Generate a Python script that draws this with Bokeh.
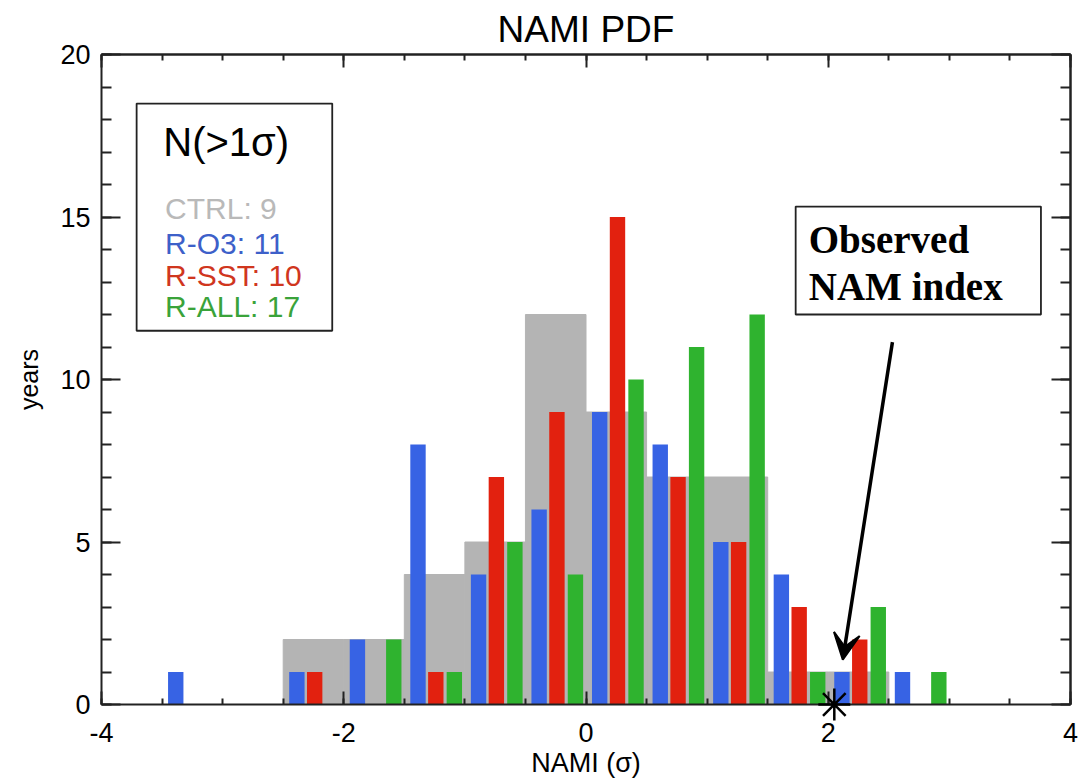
import numpy as np
from bokeh.plotting import figure
from bokeh.models import (ColumnDataSource, Range1d, LinearAxis, BoxAnnotation,
                          Label, Arrow, VeeHead, FixedTicker)
from bokeh.embed import file_html
from bokeh.resources import INLINE

# ---------------- data ----------------
bin_left = [-3.5, -3.0, -2.5, -2.0, -1.5, -1.0, -0.5, 0.0, 0.5, 1.0, 1.5, 2.0, 2.5]
bin_width = 0.5
ctrl = [0, 0, 2, 2, 4, 5, 12, 9, 7, 7, 1, 1, 0]
r_o3 = [1, 0, 1, 2, 8, 4, 6, 9, 8, 5, 4, 1, 1]
r_sst = [0, 0, 1, 0, 1, 7, 9, 15, 7, 5, 3, 2, 0]
r_all = [0, 0, 0, 2, 1, 5, 4, 10, 11, 12, 1, 3, 1]
series_names = ["CTRL", "R-O3", "R-SST", "R-ALL"]
n_above_1sigma = [9, 11, 10, 17]
observed_nami = [2.05]
observed_years = [0]
x_ticks = [-4, -2, 0, 2, 4]
x_minor = [-4 + 0.5 * i for i in range(17)]
y_ticks = [0, 5, 10, 15, 20]
y_minor = list(range(0, 21))

# ---------------- style ----------------
GRAY = "#b4b4b4"
BLUE = "#3763e4"
RED = "#e2210f"
GREEN = "#2fb32f"
TEXT_COLORS = ["#b9b9b9", "#3d60c9", "#d0361e", "#3aa33a"]
FONT = "Liberation Sans"
AX = "#222222"
bar_w = 0.127
offsets = {"blue": 0.113, "red": 0.26, "green": 0.413}

p = figure(width=1080, height=780, x_range=Range1d(-4, 4), y_range=Range1d(0, 20),
           output_backend="svg", toolbar_location=None, title="NAMI PDF")
p.min_border_left = 101
p.min_border_right = 10
p.min_border_top = 54
p.min_border_bottom = 76
p.outline_line_color = None
p.xgrid.visible = False
p.ygrid.visible = False
p.background_fill_color = "white"
p.border_fill_color = "white"

p.title.text_font = FONT
p.title.text_font_size = "37px"
p.title.text_font_style = "normal"
p.title.align = "center"
p.title.text_color = "black"
p.title.standoff = 10


def style_axis(ax, horizontal):
    ax.axis_line_width = 2
    ax.axis_line_color = AX
    ax.major_tick_line_color = AX
    ax.minor_tick_line_color = AX
    ax.major_tick_line_width = 2
    ax.minor_tick_line_width = 2
    ax.major_tick_out = 0
    ax.minor_tick_out = 0
    if horizontal:
        ax.major_tick_in = 13
        ax.minor_tick_in = 6
    else:
        ax.major_tick_in = 19
        ax.minor_tick_in = 10
    ax.major_label_text_font = FONT
    ax.major_label_text_font_size = "27px"
    ax.major_label_text_color = "black"
    ax.axis_label_text_font = FONT
    ax.axis_label_text_font_style = "normal"
    ax.axis_label_text_color = "black"


xa = p.xaxis[0]
xa.ticker = FixedTicker(ticks=x_ticks, minor_ticks=x_minor)
xa.axis_label = "NAMI (σ)"
style_axis(xa, True)
xa.major_label_overrides = {t: str(t) for t in x_ticks}
xa.major_label_standoff = 18
xa.axis_label_standoff = 3
xa.axis_label_text_font_size = "27px"

ya = p.yaxis[0]
ya.ticker = FixedTicker(ticks=y_ticks, minor_ticks=y_minor)
ya.axis_label = "years"
style_axis(ya, False)
ya.major_label_standoff = 11
ya.axis_label_standoff = 14
ya.axis_label_text_font_size = "25px"


def tick_only_axis(minor_positions, tick_len):
    """Axis without labels: only inward ticks (drawn as 'minor' ticks)."""
    ax = LinearAxis(ticker=FixedTicker(ticks=[], minor_ticks=minor_positions))
    ax.axis_line_width = 2
    ax.axis_line_color = AX
    ax.minor_tick_line_color = AX
    ax.minor_tick_line_width = 2
    ax.minor_tick_in = tick_len
    ax.minor_tick_out = 0
    ax.major_tick_out = 0
    ax.major_tick_in = 0
    ax.major_label_standoff = 0
    return ax


p.add_layout(tick_only_axis(x_minor, 6), "above")
p.add_layout(tick_only_axis(x_ticks, 13), "above")
p.add_layout(tick_only_axis(y_minor, 10), "right")
p.add_layout(tick_only_axis(y_ticks, 19), "right")

# ---------------- CTRL histogram (wide gray steps) ----------------
bl = np.array(bin_left)
c = np.array(ctrl)
m = c > 0
p.quad(left=bl[m], right=bl[m] + bin_width, bottom=0, top=c[m],
       fill_color=GRAY, line_color=GRAY, line_width=1)

# ---------------- coloured bars ----------------
for counts, color, key in [(r_o3, BLUE, "blue"), (r_sst, RED, "red"), (r_all, GREEN, "green")]:
    cnt = np.array(counts)
    mm = cnt > 0
    src = ColumnDataSource(dict(x=bl[mm] + offsets[key], top=cnt[mm]))
    p.vbar(x="x", top="top", bottom=0, width=bar_w, source=src,
           fill_color=color, line_color=None)

# ---------------- observed index ----------------
p.scatter(x=observed_nami, y=observed_years, marker="asterisk", size=32,
          line_color="black", line_width=2.5, level="overlay")

p.add_layout(Arrow(end=VeeHead(size=26, fill_color="black", line_color="black", line_width=2),
                   x_start=2.53, y_start=11.15, x_end=2.12, y_end=1.38,
                   line_width=3.5, line_color="black"))

p.add_layout(BoxAnnotation(left=1.731, right=3.756, top=15.32, bottom=12.0,
                           fill_color="white", fill_alpha=1.0,
                           line_color=AX, line_alpha=1.0, line_width=1.8))
for txt, yy in [("Observed", 14.3), ("NAM index", 12.85)]:
    p.add_layout(Label(x=1.839, y=yy, text=txt, text_font="Liberation Serif",
                       text_font_style="bold", text_font_size="39px",
                       text_color="black", text_baseline="alphabetic"))

# ---------------- N(>1 sigma) box ----------------
p.add_layout(BoxAnnotation(left=-3.71, right=-2.095, top=18.49, bottom=11.5,
                           fill_color="white", fill_alpha=1.0,
                           line_color=AX, line_alpha=1.0, line_width=1.8))
p.add_layout(Label(x=-3.49, y=17.3, text="N(>1σ)", text_font=FONT,
                   text_font_size="40px", text_color="black",
                   text_baseline="alphabetic"))
legend_baselines = [15.25, 14.2, 13.2, 12.25]
for name, n, col, yy in zip(series_names, n_above_1sigma, TEXT_COLORS, legend_baselines):
    p.add_layout(Label(x=-3.475, y=yy, text=f"{name}: {n}", text_font=FONT,
                       text_font_size="30px", text_color=col,
                       text_baseline="alphabetic"))

open("out.html", "w").write(file_html(p, INLINE))
